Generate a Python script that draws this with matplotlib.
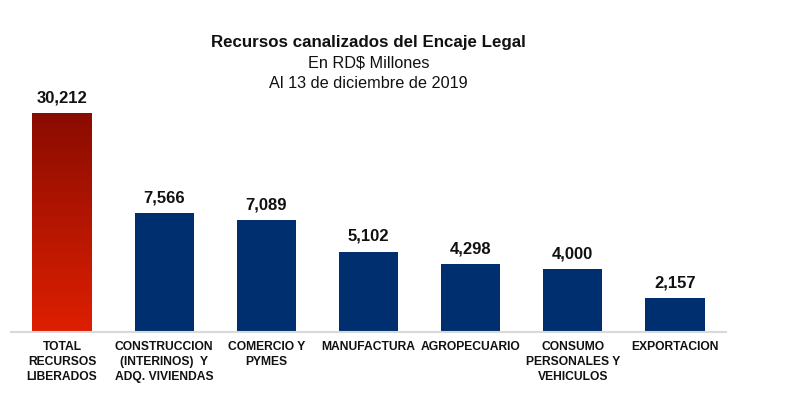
import matplotlib
matplotlib.use("Agg")
import matplotlib.pyplot as plt
import numpy as np
from matplotlib.colors import LinearSegmentedColormap

categories = ["TOTAL\nRECURSOS\nLIBERADOS",
              "CONSTRUCCION\n(INTERINOS)  Y\nADQ. VIVIENDAS",
              "COMERCIO Y\nPYMES",
              "MANUFACTURA",
              "AGROPECUARIO",
              "CONSUMO\nPERSONALES Y\nVEHICULOS",
              "EXPORTACION"]
values = [30212, 7566, 7089, 5102, 4298, 4000, 2157]
value_labels = ["30,212", "7,566", "7,089", "5,102", "4,298", "4,000", "2,157"]

display_cap = 13900  # first bar drawn truncated as in the original

plt.rcParams['font.family'] = ['Liberation Sans', 'DejaVu Sans']

fig = plt.figure(figsize=(8, 3.98), dpi=100)
ax = fig.add_axes([11/800, 66/398, 715/800, 312/398])

x = np.arange(len(values))
heights = np.minimum(values, display_cap)
width = 0.58
colors = ["none"] + ["#002F6F"] * (len(values) - 1)
bars = ax.bar(x, heights, width=width, color=colors, zorder=2)

# gradient for first bar
cmap = LinearSegmentedColormap.from_list("red", ["#DE1F00", "#8A0C00"])
grad = np.linspace(0, 1, 256).reshape(-1, 1)
b0 = bars[0]
ax.imshow(grad, cmap=cmap, origin="lower", aspect="auto",
          extent=[b0.get_x(), b0.get_x() + b0.get_width(), 0, b0.get_height()],
          zorder=2)

ax.set_xlim(-0.5, len(values) - 0.5)
ax.set_ylim(0, 19835)

for xi, h, lab in zip(x, heights, value_labels):
    ax.text(xi, h + 500, lab, ha="center", va="bottom", fontsize=12,
            fontweight="bold", color="#111111")

for xi, cat in zip(x, categories):
    ax.text(xi, -600, cat, ha="center", va="top", fontsize=8.7,
            fontweight="bold", color="#111111", linespacing=1.3)

for s in ["top", "right", "left"]:
    ax.spines[s].set_visible(False)
ax.spines["bottom"].set_color("#D9D9D9")
ax.spines["bottom"].set_linewidth(1.5)
ax.set_xticks([])
ax.set_yticks([])
ax.patch.set_alpha(0)

cx = (11 + 726) / 2 / 800
fig.text(cx, 1 - 42/398, "Recursos canalizados del Encaje Legal", ha="center",
         va="center", fontsize=12.2, fontweight="bold", color="#111111")
fig.text(cx, 1 - 63/398, "En RD$ Millones", ha="center", va="center",
         fontsize=11.7, color="#111111")
fig.text(cx, 1 - 84/398, "Al 13 de diciembre de 2019", ha="center", va="center",
         fontsize=11.7, color="#111111")

fig.savefig("out.png", dpi=100)
